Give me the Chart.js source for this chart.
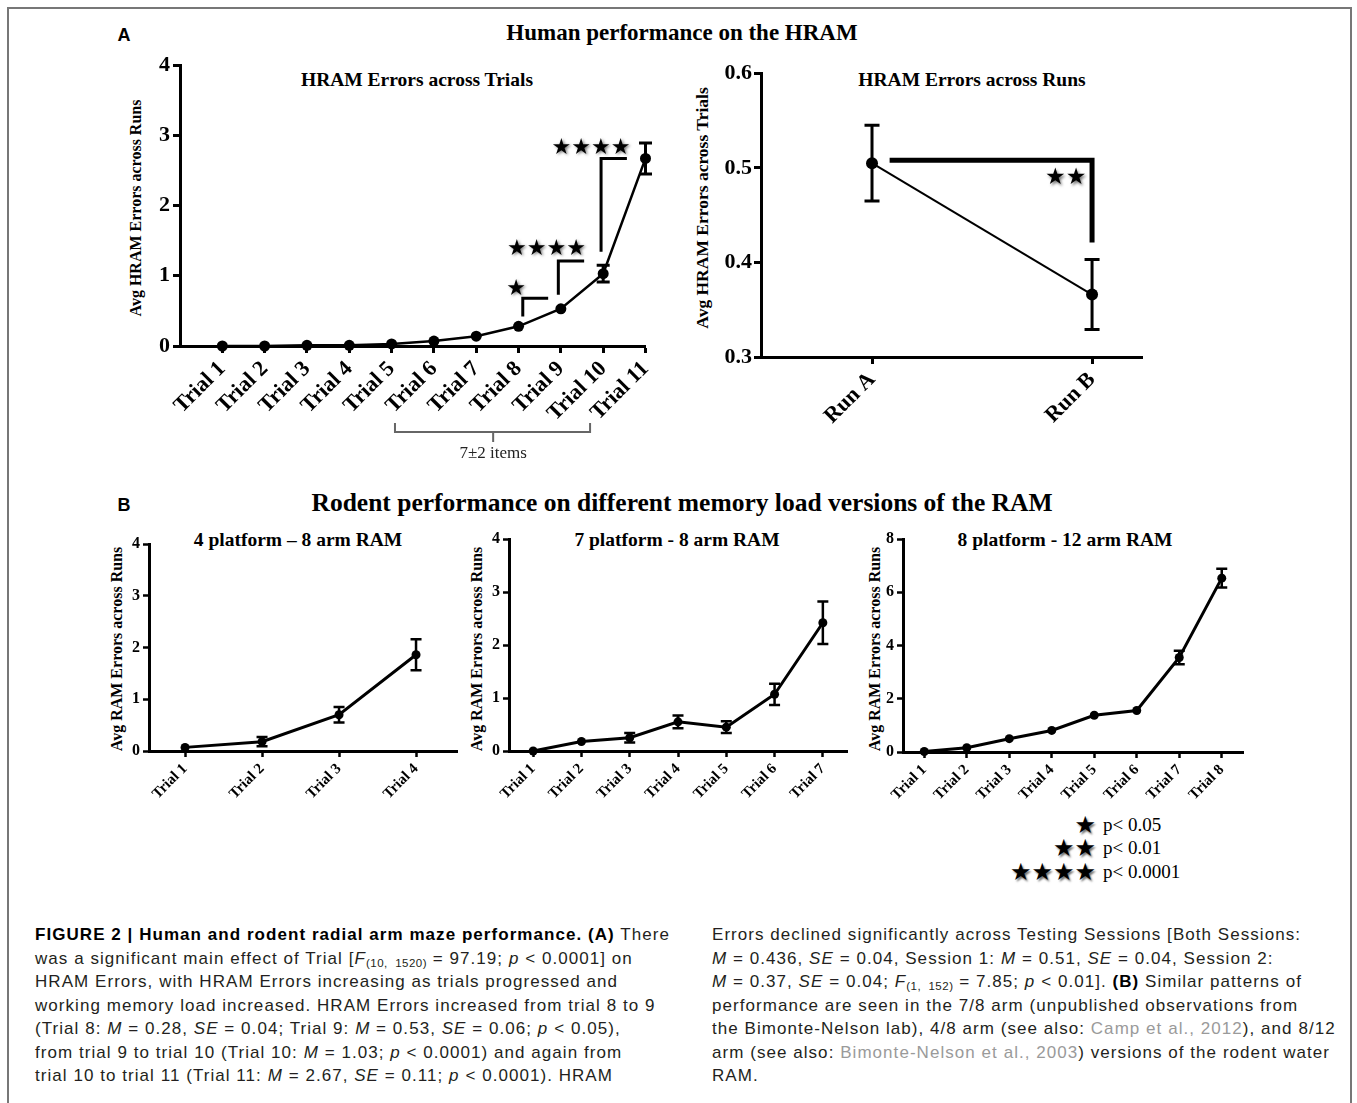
<!DOCTYPE html>
<html><head><meta charset="utf-8">
<script src="https://cdn.jsdelivr.net/npm/chart.js@4.4.1/dist/chart.umd.min.js"></script>
<style>
html,body{margin:0;padding:0;background:#fff;}
#page{position:relative;width:1357px;height:1103px;overflow:hidden;background:#fff;}
.t{position:absolute;white-space:nowrap;transform:translate(-50%,-50%);color:#000;}
.sb{font-family:"Liberation Serif","Times New Roman",serif;font-weight:bold;}
.rot{transform:translate(-50%,-50%) rotate(-90deg);}
canvas{position:absolute;}
#frame{position:absolute;left:7px;top:7px;width:1345px;height:1130px;border:2px solid #777;box-sizing:border-box;}
.cap{position:absolute;font-family:"Liberation Sans",Arial,sans-serif;font-size:17px;letter-spacing:1.05px;color:#231f20;line-height:23.5px;white-space:nowrap;}
.cap b{color:#000;letter-spacing:1.05px;}
.cap sub{font-size:11.5px;vertical-align:-3px;line-height:0;letter-spacing:0.5px;}
.lnk{color:#9a9a9a;}
.leg{position:absolute;white-space:nowrap;font-family:"Liberation Serif",serif;font-size:19px;color:#000;transform:translateY(-50%);}
.st{position:absolute;white-space:nowrap;font-family:"DejaVu Sans",sans-serif;font-size:24px;color:#000;text-shadow:1.5px 1.5px 2px rgba(0,0,0,0.55);transform:translate(-100%,-50%);}
</style>
</head><body>
<div id="page">
<div id="frame"></div>
<div class="t" style="left:124px;top:35px;font-family:'Liberation Sans',Arial,sans-serif;font-weight:bold;font-size:18px;">A</div>
<div class="t sb" style="left:682px;top:33px;font-size:23px;">Human performance on the HRAM</div>
<div class="t sb" style="left:417px;top:80px;font-size:19.5px;">HRAM Errors across Trials</div>
<div class="t sb rot" style="left:136px;top:208px;font-size:16px;">Avg HRAM Errors across Runs</div>
<div class="t sb" style="left:972px;top:80px;font-size:19.5px;">HRAM Errors across Runs</div>
<div class="t sb rot" style="left:702px;top:208px;font-size:17.5px;">Avg HRAM Errors across Trials</div>

<div class="t" style="left:124px;top:505px;font-family:'Liberation Sans',Arial,sans-serif;font-weight:bold;font-size:18px;">B</div>
<div class="t sb" style="left:682px;top:503px;font-size:25.5px;">Rodent performance on different memory load versions of the RAM</div>
<div class="t sb" style="left:298px;top:540px;font-size:19.5px;">4 platform – 8 arm RAM</div>
<div class="t sb rot" style="left:117px;top:649px;font-size:16px;">Avg RAM Errors across Runs</div>
<div class="t sb" style="left:677px;top:540px;font-size:19.5px;">7 platform - 8 arm RAM</div>
<div class="t sb rot" style="left:477px;top:649px;font-size:16px;">Avg RAM Errors across Runs</div>
<div class="t sb" style="left:1065px;top:540px;font-size:19.5px;">8 platform - 12 arm RAM</div>
<div class="t sb rot" style="left:875px;top:649px;font-size:16px;">Avg RAM Errors across Runs</div>

<div class="st" style="left:1096px;top:825px;">★</div><div class="leg" style="left:1103px;top:825px;">p&lt; 0.05</div>
<div class="st" style="left:1096px;top:848px;">★★</div><div class="leg" style="left:1103px;top:848px;">p&lt; 0.01</div>
<div class="st" style="left:1096px;top:872px;">★★★★</div><div class="leg" style="left:1103px;top:872px;">p&lt; 0.0001</div>

<div class="cap" style="left:35px;top:923px;">
<b>FIGURE 2 | Human and rodent radial arm maze performance. (A)</b> There<br>
was a significant main effect of Trial [<i>F</i><sub>(10,&nbsp; 1520)</sub> = 97.19; <i>p</i> &lt; 0.0001] on<br>
HRAM Errors, with HRAM Errors increasing as trials progressed and<br>
working memory load increased. HRAM Errors increased from trial 8 to 9<br>
(Trial 8: <i>M</i> = 0.28, <i>SE</i> = 0.04; Trial 9: <i>M</i> = 0.53, <i>SE</i> = 0.06; <i>p</i> &lt; 0.05),<br>
from trial 9 to trial 10 (Trial 10: <i>M</i> = 1.03; <i>p</i> &lt; 0.0001) and again from<br>
trial 10 to trial 11 (Trial 11: <i>M</i> = 2.67, <i>SE</i> = 0.11; <i>p</i> &lt; 0.0001). HRAM
</div>
<div class="cap" style="left:712px;top:923px;">
Errors declined significantly across Testing Sessions [Both Sessions:<br>
<i>M</i> = 0.436, <i>SE</i> = 0.04, Session 1: <i>M</i> = 0.51, <i>SE</i> = 0.04, Session 2:<br>
<i>M</i> = 0.37, <i>SE</i> = 0.04; <i>F</i><sub>(1,&nbsp; 152)</sub> = 7.85; <i>p</i> &lt; 0.01]. <b>(B)</b> Similar patterns of<br>
performance are seen in the 7/8 arm (unpublished observations from<br>
the Bimonte-Nelson lab), 4/8 arm (see also: <span class="lnk">Camp et al., 2012</span>), and 8/12<br>
arm (see also: <span class="lnk">Bimonte-Nelson et al., 2003</span>) versions of the rodent water<br>
RAM.
</div>
</div>
<script>
// ---------- DATA ----------
const hramTrials = ["Trial 1","Trial 2","Trial 3","Trial 4","Trial 5","Trial 6","Trial 7","Trial 8","Trial 9","Trial 10","Trial 11"];
const hramTrialErrors = [0, 0, 0.01, 0.01, 0.03, 0.07, 0.14, 0.28, 0.53, 1.03, 2.67];
const hramTrialSE = [0, 0, 0, 0, 0, 0.01, 0.02, 0.04, 0.06, 0.12, 0.22];
const hramTrialTicks = [0, 1, 2, 3, 4];

const hramRuns = ["Run A", "Run B"];
const hramRunErrors = [0.505, 0.366];
const hramRunSE = [0.04, 0.037];
const hramRunTicks = [0.3, 0.4, 0.5, 0.6];

const ram48Trials = ["Trial 1","Trial 2","Trial 3","Trial 4"];
const ram48Errors = [0.07, 0.18, 0.70, 1.86];
const ram48SE = [0.03, 0.09, 0.15, 0.30];
const ram48Ticks = [0, 1, 2, 3, 4];

const ram78Trials = ["Trial 1","Trial 2","Trial 3","Trial 4","Trial 5","Trial 6","Trial 7"];
const ram78Errors = [0, 0.18, 0.25, 0.55, 0.45, 1.07, 2.42];
const ram78SE = [0, 0.03, 0.09, 0.12, 0.11, 0.20, 0.40];
const ram78Ticks = [0, 1, 2, 3, 4];

const ram812Trials = ["Trial 1","Trial 2","Trial 3","Trial 4","Trial 5","Trial 6","Trial 7","Trial 8"];
const ram812Errors = [0.02, 0.16, 0.50, 0.81, 1.38, 1.56, 3.55, 6.53];
const ram812SE = [0, 0, 0, 0, 0, 0, 0.25, 0.35];
const ram812Ticks = [0, 2, 4, 6, 8];

// significance annotations (data units: trial index, errors)
const hramTrialSigLines = [
  [[8.10, 0.42], [8.10, 0.68], [8.70, 0.68]],
  [[8.94, 0.73], [8.94, 1.21], [9.55, 1.21]],
  [[9.95, 1.34], [9.95, 2.67], [10.56, 2.67]]
];
const hramTrialStars = [
  {x: 7.94, y: 0.81, n: 1},
  {x: 8.66, y: 1.38, n: 4},
  {x: 9.71, y: 2.82, n: 4}
];
const hramRunSigLines = [[[1.08, 0.508], [2.0, 0.508], [2.0, 0.421]]];
const hramRunStars = [{x: 1.88, y: 0.489, n: 2}];
const spanItems = {from: 5.08, to: 9.69, mid: 7.4, label: "7±2 items"};

// ---------- RENDER ----------
const SERIF = '"Liberation Serif","Times New Roman",serif';
const page = document.getElementById('page');

function drawExtras(chart, o) {
  const ctx = chart.ctx, xs = chart.scales.x, ys = chart.scales.y;
  ctx.save();
  // error bars (hidden when shorter than the symbol, as in the original)
  ctx.strokeStyle = '#000'; ctx.lineWidth = o.errW; ctx.lineCap = 'butt';
  o.values.forEach((v, i) => {
    const e = o.se[i]; if (!e) return;
    const px = xs.getPixelForValue(i + 1);
    const yt = ys.getPixelForValue(v + e), yb = ys.getPixelForValue(v - e);
    if ((yb - yt) / 2 <= o.pointR) return;
    ctx.beginPath();
    ctx.moveTo(px, yt); ctx.lineTo(px, yb);
    ctx.moveTo(px - o.capW / 2, yt); ctx.lineTo(px + o.capW / 2, yt);
    ctx.moveTo(px - o.capW / 2, yb); ctx.lineTo(px + o.capW / 2, yb);
    ctx.stroke();
  });
  (o.sigLines || []).forEach(pl => {
    ctx.beginPath(); ctx.lineWidth = o.sigW; ctx.lineJoin = 'miter'; ctx.lineCap = 'butt';
    pl.forEach((p, k) => {
      const X = xs.getPixelForValue(p[0]), Y = ys.getPixelForValue(p[1]);
      k ? ctx.lineTo(X, Y) : ctx.moveTo(X, Y);
    });
    ctx.stroke();
  });
  (o.stars || []).forEach(s => {
    ctx.save();
    ctx.font = o.starSize + 'px "DejaVu Sans"';
    ctx.textAlign = 'center'; ctx.textBaseline = 'middle';
    ctx.shadowColor = 'rgba(0,0,0,0.55)'; ctx.shadowBlur = 3; ctx.shadowOffsetX = 1.5; ctx.shadowOffsetY = 1.5;
    ctx.fillStyle = '#000';
    ctx.fillText('★'.repeat(s.n), xs.getPixelForValue(s.x), ys.getPixelForValue(s.y));
    ctx.restore();
  });
  if (o.span) {
    const b = chart.chartArea.bottom, sp = o.span;
    const x1 = xs.getPixelForValue(sp.from), x2 = xs.getPixelForValue(sp.to), xm = xs.getPixelForValue(sp.mid);
    ctx.strokeStyle = '#666'; ctx.lineWidth = 2;
    ctx.beginPath();
    ctx.moveTo(x1, b + 77); ctx.lineTo(x1, b + 86); ctx.lineTo(x2, b + 86); ctx.lineTo(x2, b + 77);
    ctx.moveTo(xm, b + 86); ctx.lineTo(xm, b + 96);
    ctx.stroke();
    ctx.fillStyle = '#222'; ctx.font = '17px ' + SERIF; ctx.textAlign = 'center'; ctx.textBaseline = 'middle';
    ctx.fillText(sp.label, xm, b + 108);
  }
  ctx.restore();
}

function build(o) {
  const cv = document.createElement('canvas');
  const W = o.cRight - o.cLeft, H = o.cBottom - o.cTop;
  cv.width = W; cv.height = H;
  cv.style.left = o.cLeft + 'px'; cv.style.top = o.cTop + 'px';
  cv.style.width = W + 'px'; cv.style.height = H + 'px';
  page.appendChild(cv);
  const xVals = o.labels.map((_, i) => i + 1);
  const gridCfg = {drawOnChartArea: false, drawTicks: true, tickLength: o.tickLen, tickWidth: o.tickW, tickColor: '#000', color: '#000'};
  const borderCfg = {display: true, color: '#000', width: o.axisW};
  new Chart(cv, {
    type: 'line',
    data: {datasets: [{
      data: o.values.map((v, i) => ({x: xVals[i], y: v})),
      borderColor: '#000', backgroundColor: '#000', borderWidth: o.lineW,
      pointRadius: o.pointR, pointBackgroundColor: '#000', pointBorderWidth: 0,
      tension: 0, clip: false
    }]},
    options: {
      responsive: false, animation: false, events: [], devicePixelRatio: 1,
      layout: {padding: {left: 0, top: o.topY - o.cTop, right: o.cRight - o.rightX, bottom: 0}},
      plugins: {legend: {display: false}, tooltip: {enabled: false}},
      scales: {
        x: {
          type: 'linear', min: o.xMin, max: o.xMax,
          afterBuildTicks: s => { s.ticks = xVals.map(v => ({value: v})); },
          afterFit: s => { s.height = o.cBottom - o.bottomY; },
          ticks: {autoSkip: false, minRotation: 45, maxRotation: 45, padding: o.xPad,
                  font: {family: SERIF, weight: 'bold', size: o.xFont}, color: '#000',
                  callback: (v, i) => o.labels[i]},
          grid: gridCfg, border: borderCfg
        },
        y: {
          type: 'linear', min: o.yMin, max: o.yMax,
          afterBuildTicks: s => { s.ticks = o.yTicks.map(v => ({value: v})); },
          afterFit: s => { s.width = o.axisX - o.cLeft; },
          ticks: {padding: o.yPad, font: {family: SERIF, weight: 'bold', size: o.yFont}, color: '#000',
                  callback: v => o.yDec ? v.toFixed(o.yDec) : String(v)},
          grid: gridCfg, border: borderCfg
        }
      }
    },
    plugins: [{id: 'extras', afterDatasetsDraw: ch => drawExtras(ch, o)}]
  });
}

build({labels: hramTrials, values: hramTrialErrors, se: hramTrialSE, yTicks: hramTrialTicks, yMin: 0, yMax: 4,
  cLeft: 110, cTop: 35, cRight: 670, cBottom: 476, axisX: 180, topY: 65, bottomY: 346, rightX: 645.5,
  xMin: 0, xMax: 11, xFont: 22, yFont: 22, xPad: 3, yPad: 3, tickLen: 7, tickW: 3, axisW: 3,
  lineW: 2.5, pointR: 5.5, errW: 3, capW: 13,
  sigLines: hramTrialSigLines, sigW: 3, stars: hramTrialStars, starSize: 22, span: spanItems});

build({labels: hramRuns, values: hramRunErrors, se: hramRunSE, yTicks: hramRunTicks, yMin: 0.3, yMax: 0.6, yDec: 1,
  cLeft: 691, cTop: 43, cRight: 1165, cBottom: 460, axisX: 761, topY: 73.3, bottomY: 357, rightX: 1142,
  xMin: 0.4955, xMax: 2.227, xFont: 22, yFont: 22, xPad: 3, yPad: 2, tickLen: 7, tickW: 3, axisW: 3,
  lineW: 2, pointR: 6, errW: 3, capW: 15,
  sigLines: hramRunSigLines, sigW: 5, stars: hramRunStars, starSize: 23});

build({labels: ram48Trials, values: ram48Errors, se: ram48SE, yTicks: ram48Ticks, yMin: 0, yMax: 4,
  cLeft: 104, cTop: 524, cRight: 472, cBottom: 815, axisX: 149, topY: 544, bottomY: 751, rightX: 457,
  xMin: 0.532, xMax: 4.532, xFont: 15, yFont: 16, xPad: 3, yPad: 3, tickLen: 6, tickW: 2.5, axisW: 3,
  lineW: 3, pointR: 4.5, errW: 2.5, capW: 11});

build({labels: ram78Trials, values: ram78Errors, se: ram78SE, yTicks: ram78Ticks, yMin: 0, yMax: 4,
  cLeft: 464, cTop: 519, cRight: 860, cBottom: 815, axisX: 509, topY: 539, bottomY: 751, rightX: 847,
  xMin: 0.5, xMax: 7.5, xFont: 15, yFont: 16, xPad: 3, yPad: 3, tickLen: 6, tickW: 2.5, axisW: 3,
  lineW: 3, pointR: 4.5, errW: 2.5, capW: 11});

build({labels: ram812Trials, values: ram812Errors, se: ram812SE, yTicks: ram812Ticks, yMin: 0, yMax: 8,
  cLeft: 858, cTop: 519, cRight: 1260, cBottom: 815, axisX: 903, topY: 539, bottomY: 752, rightX: 1243,
  xMin: 0.5, xMax: 8.5, xFont: 15, yFont: 16, xPad: 3, yPad: 3, tickLen: 6, tickW: 2.5, axisW: 3,
  lineW: 3, pointR: 4.5, errW: 2.5, capW: 11});
</script>
</body></html>
